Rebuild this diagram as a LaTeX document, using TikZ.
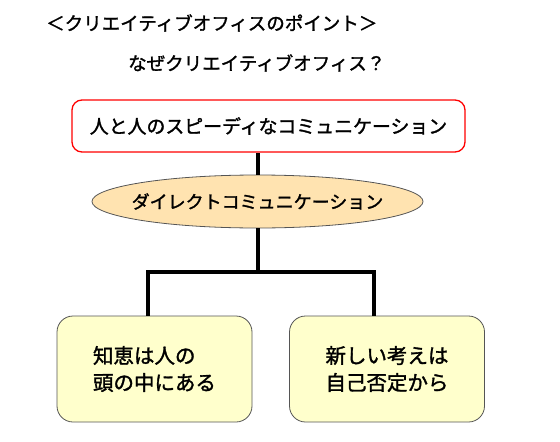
\documentclass[tikz,border=0pt]{standalone}
\usepackage{fontspec}
\setmainfont{Noto Sans CJK JP}[FakeBold=1.5]
\usetikzlibrary{shapes.geometric}
\definecolor{ellfill}{HTML}{FFE3B0}
\definecolor{boxfill}{HTML}{FFFFCC}
\definecolor{boxline}{HTML}{555555}
\tikzset{
  conn/.style={line width=4pt, line join=miter},
  topbox/.style={draw=red, line width=1.3pt, fill=white, rounded corners=10pt,
    minimum width=393pt, minimum height=52pt, inner sep=0pt},
  toptext/.style={inner sep=0pt, font=\fontsize{18.9pt}{22pt}\selectfont},
  ellbox/.style={ellipse, draw=boxline, line width=0.8pt, fill=ellfill,
    minimum width=331pt, minimum height=53pt, inner sep=0pt},
  elltext/.style={inner sep=0pt, font=\fontsize{18pt}{22pt}\selectfont},
  leafbox/.style={draw=boxline, line width=0.8pt, fill=boxfill, rounded corners=16pt,
    minimum width=195pt, minimum height=106pt, inner sep=0pt},
  leaftext/.style={align=left, inner sep=0pt, font=\fontsize{20.5pt}{27pt}\selectfont},
  titletext/.style={anchor=west, inner sep=0pt, font=\fontsize{18.5pt}{22pt}\selectfont}
}
\begin{document}
\begin{tikzpicture}[x=1pt, y=-1pt]
\useasboundingbox (0,0) rectangle (560,442);
\node[titletext] (title) at (46,23) {＜クリエイティブオフィスのポイント＞};
\node[titletext] (sub) at (128,63) {なぜクリエイティブオフィス？};
\node[topbox] (top) at (268.5,126) {};
\node[toptext] (toptx) at (top.center) {人と人のスピーディなコミュニケーション};
\node[ellbox] (ell) at (257.5,201.5) {};
\node[elltext] (elltx) at (ell.center) {ダイレクトコミュニケーション};
\node[leafbox] (L) at (154.5,369) {};
\node[leafbox] (R) at (387,369) {};
\node[leaftext] (Lt) at (L.center) {知恵は人の\\頭の中にある};
\node[leaftext] (Rt) at (R.center) {新しい考えは\\自己否定から};
\coordinate (j1) at (148,272);
\coordinate (j2) at (374,272);
\draw[conn] (ell.north) -- (ell.north |- top.south);
\draw[conn] (ell.south) -- (ell.south |- j1);
\draw[conn] (j1 |- L.north) -- (j1) -- (j2) -- (j2 |- R.north);
\end{tikzpicture}
\end{document}
